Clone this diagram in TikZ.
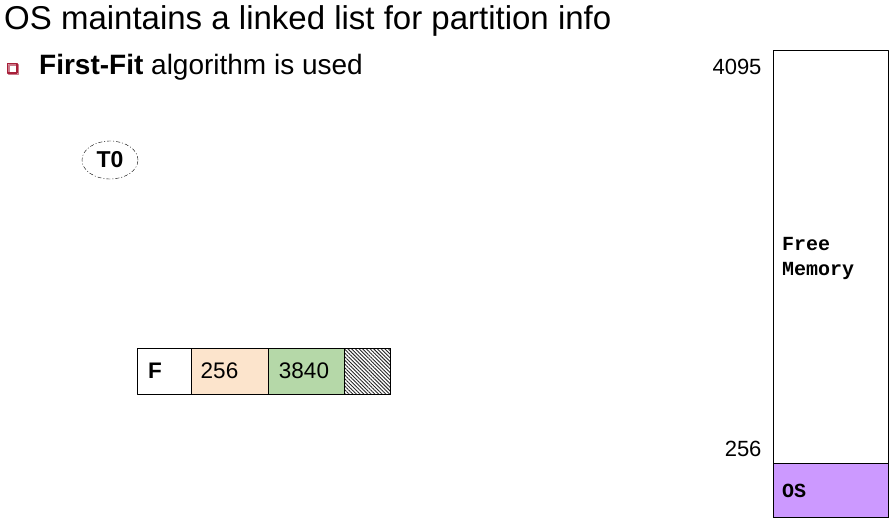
\documentclass[tikz,border=0pt]{standalone}
\usepackage{fontspec}
\setmainfont{Liberation Sans}
\setmonofont{Liberation Mono}
\usetikzlibrary{positioning,patterns.meta,shapes.geometric}
\definecolor{peach}{HTML}{FCE4CC}
\definecolor{leaf}{HTML}{B5D8A8}
\definecolor{lilac}{HTML}{CC99FF}
\definecolor{bulletred}{HTML}{A8203A}
\tikzset{
  cell/.style={draw, minimum height=46pt, inner sep=0pt, outer sep=0pt, font=\fontsize{22.5}{24}\selectfont},
  addr/.style={anchor=east, font=\fontsize{22}{24}\selectfont},
  memtxt/.style={font=\ttfamily\bfseries\fontsize{20}{25}\selectfont, align=left}
}
\begin{document}
\begin{tikzpicture}[x=1pt, y=-1pt, line join=round]
  \useasboundingbox (0,0) rectangle (896,523);
  % heading and bullet
  \node[anchor=west, inner sep=0pt, font=\fontsize{33}{36}\selectfont] (title) at (4,21) {OS maintains a linked list for partition info};
  \draw[bulletred!60, line width=1.5pt] (9,65) rectangle (18.5,74.5);
  \draw[bulletred, line width=1.5pt] (7.5,63.5) rectangle (17,73);
  \node[anchor=west, inner sep=0pt, font=\fontsize{28}{30}\selectfont] (rule) at (39,67) {\textbf{First-Fit} algorithm is used};
  % time mark
  \node[draw, dash pattern=on 4pt off 2pt on 1pt off 2pt, ellipse, minimum width=56pt, minimum height=38pt, inner sep=0pt, font=\bfseries\fontsize{23}{24}\selectfont] (t0) at (110,160) {T0};
  % partition list
  \node[cell, minimum width=54pt, fill=white, anchor=north west] (flag) at (137,348) {\hspace*{-18pt}\textbf{F}};
  \node[cell, minimum width=77pt, fill=peach, right=0pt of flag] (start) {\hspace*{-20pt}256};
  \node[cell, minimum width=76pt, fill=leaf, right=0pt of start] (size) {\hspace*{-4pt}3840};
  \node[cell, minimum width=46pt, pattern={Lines[angle=-45, distance=2.6pt, line width=0.9pt]}, pattern color=black!85, right=0pt of size] (next) {};
  \draw (next.north west) rectangle (next.south east);
  % memory map
  \draw[fill=white] (773,50) rectangle (888,517);
  \draw[fill=lilac] (773,463) rectangle (888,517);
  \node[memtxt, anchor=north west, inner sep=0pt] (free) at (782,237) {Free\\Memory};
  \node[memtxt, anchor=west, inner sep=0pt] (os) at (782,491) {OS};
  \node[addr] (top) at (765,67) {4095};
  \node[addr] (low) at (765,449) {256};
\end{tikzpicture}
\end{document}
